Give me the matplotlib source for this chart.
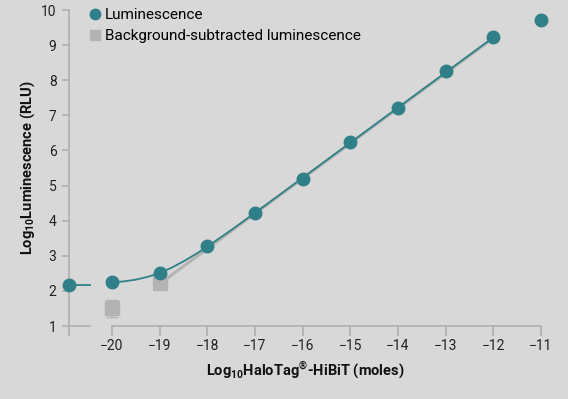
import matplotlib
matplotlib.use('Agg')
import matplotlib.pyplot as plt
from matplotlib.lines import Line2D
import numpy as np

plt.rcParams['font.family'] = ['Roboto', 'DejaVu Sans']
plt.rcParams['mathtext.fontset'] = 'custom'
plt.rcParams['mathtext.rm'] = 'Roboto'
plt.rcParams['mathtext.bf'] = 'Roboto:bold'

# %% data (log10 moles, log10 RLU)
ctrl_x = -20.9           # no-target control, drawn left of the axis break
ctrl_lum = 2.16
moles = [-20, -19, -18, -17, -16, -15, -14, -13, -12, -11]
lum = [2.24, 2.51, 3.27, 4.23, 5.20, 6.23, 7.20, 8.27, 9.23, 9.72]
bg_moles = [-20, -19]
bg_lum = [1.50, 2.22]
bg_err = [0.24, 0.0]

# fitted curves
fit_x = [-20, -19.75, -19.5, -19.25, -19, -18.75, -18.5, -18.25, -18, -17.5, -17, -12]
fit_y = [2.24, 2.27, 2.32, 2.40, 2.51, 2.66, 2.84, 3.04, 3.26, 3.73, 4.22, 9.22]
bgfit_x = [-19, -12]
bgfit_y = [2.20, 9.20]
ctrl_line_x = [-20.9, -20.46]

teal = '#2f8088'
grey = '#b3b3b3'
axis_grey = '#b0b0b0'
bg = '#d8d8d8'

# %%
fig = plt.figure(figsize=(5.68, 3.99), dpi=100, facecolor=bg)
ax = fig.add_axes([69 / 568, 1 - 326 / 399, 472 / 568, 316 / 399], facecolor=bg)

ax.plot(bgfit_x, bgfit_y, color=grey, lw=2.2, zorder=2)
ax.plot(fit_x, fit_y, color=teal, lw=1.3, zorder=3)
ax.plot(ctrl_line_x, [ctrl_lum, ctrl_lum], color=teal, lw=1.3, zorder=3, clip_on=False)

ax.errorbar(bg_moles, bg_lum, yerr=bg_err, fmt='s', color=grey, ms=9.5, ecolor=grey,
            elinewidth=1.2, capsize=4, zorder=4)
ax.plot(moles, lum, 'o', color=teal, ms=9, zorder=5, clip_on=False)
ax.plot([ctrl_x], [ctrl_lum], 'o', color=teal, ms=9, zorder=5, clip_on=False)

ax.set_xlim(-20.9, -11)
ax.set_ylim(1, 10)

# broken x axis
for s in ['top', 'right', 'bottom']:
    ax.spines[s].set_visible(False)
ax.spines['left'].set_color(axis_grey)
ax.spines['left'].set_linewidth(1.2)
ax.plot([-20.9, -20.46], [1, 1], color=axis_grey, lw=1.2, clip_on=False)
ax.plot([-20, -11], [1, 1], color=axis_grey, lw=1.2, clip_on=False)

ax.set_xticks([ctrl_x] + moles)
ax.set_xticklabels([''] + ['\u2212%d' % (-m) for m in moles])
ax.set_yticks(range(1, 11))
ax.tick_params(axis='both', colors=axis_grey, labelcolor='#222222', labelsize=10,
               width=1.2)
ax.tick_params(axis='x', length=7, pad=2.5)
ax.tick_params(axis='y', length=5, pad=4)

ax.set_xlabel(r'Log$_\mathregular{10}$HaloTag$^\mathregular{®}$-HiBiT (moles)',
              fontsize=10.5, fontweight='bold', color='#111111', labelpad=5)
ax.set_ylabel(r'Log$_\mathregular{10}$Luminescence (RLU)',
              fontsize=10.5, fontweight='bold', color='#111111', labelpad=3)

handles = [Line2D([], [], ls='none', marker='o', color=teal, ms=7.5),
           Line2D([], [], ls='none', marker='s', color=grey, ms=7.5)]
labels = ['Luminescence', 'Background-subtracted luminescence']
ax.legend(handles, labels, loc='upper left', bbox_to_anchor=(0.025, 1.025),
          frameon=False, fontsize=11, handletextpad=0.2, borderaxespad=0,
          labelspacing=0.45, handlelength=1.0)

fig.savefig('out.png', dpi=100, facecolor=bg)
